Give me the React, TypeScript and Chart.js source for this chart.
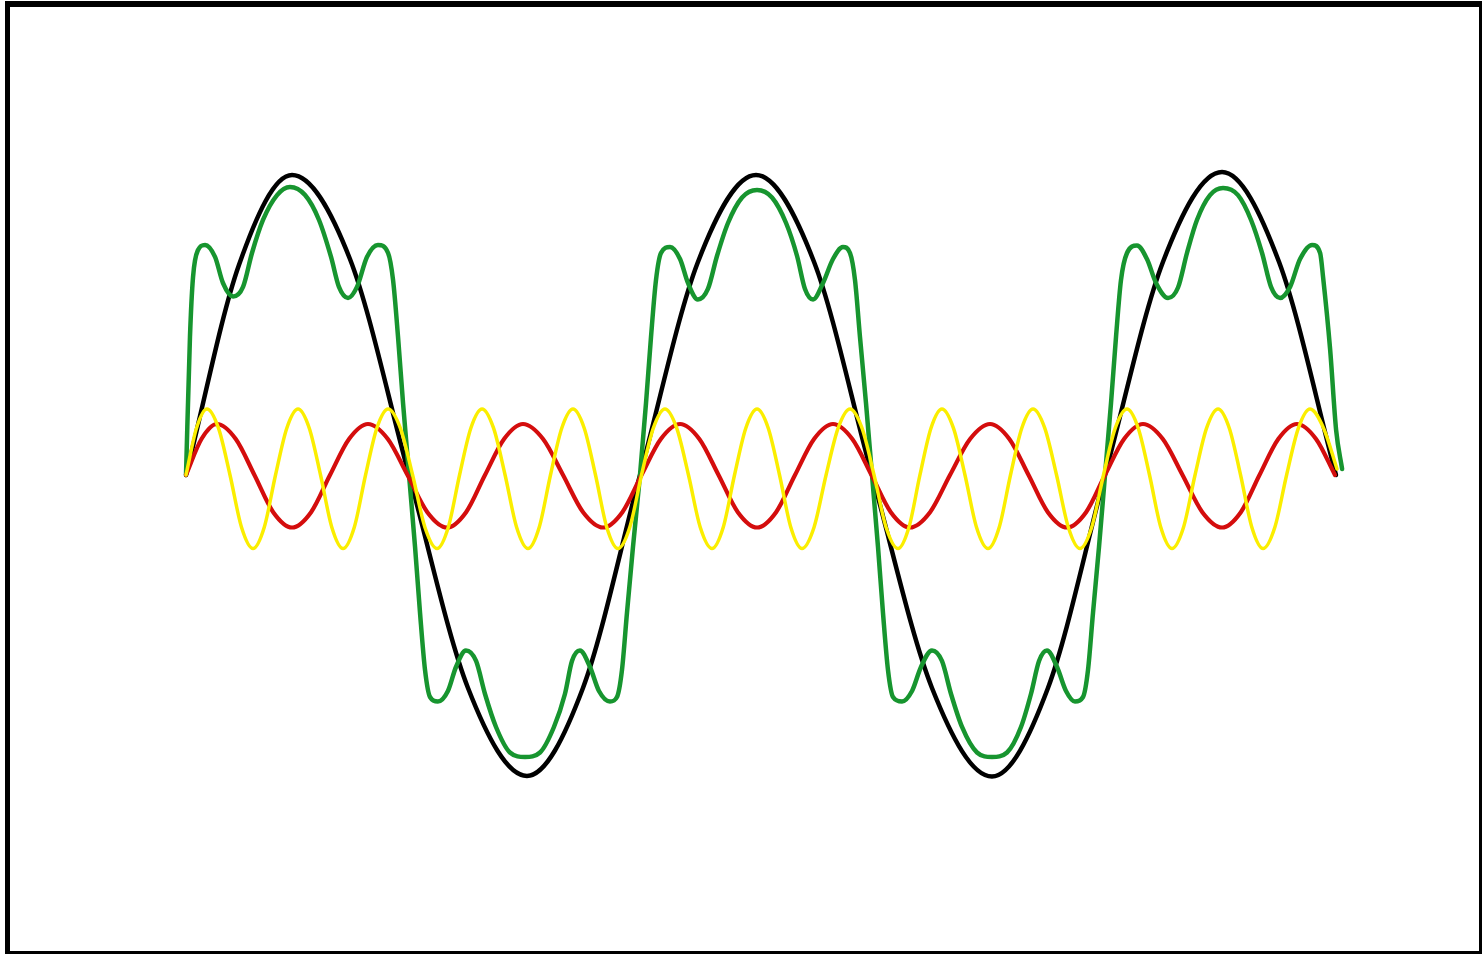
import { useEffect, useRef } from 'react';
import { Chart, registerables } from 'chart.js';

Chart.register(...registerables);

// x axis: phase of the fundamental in degrees (0 … ~900 = 2.5 periods)
// y axis: amplitude relative to the fundamental

const BLACK_X = [0, 41.4, 82.9, 128.2, 174.4, 220.5, 266.6, 310.4, 355.0, 400.3, 445.7, 491.1, 536.4, 583.3, 630.2, 674.0, 718.6, 763.9, 810.1, 854.7, 899.2];
const BLACK_Y = [0, 0.70, 1.0, 0.72, 0, -0.71, -1.003, -0.71, 0, 0.71, 1.0, 0.71, 0, -0.71, -1.005, -0.71, 0, 0.71, 1.01, 0.71, 0];

const RED_X = [
  0, 12.1, 24.2, 38.9, 53.5, 68.2, 82.9, 97.8, 112.6, 127.5, 142.3, 157.8, 173.2, 188.7, 204.1, 219.0,
  233.8, 248.7, 263.5, 279.2, 294.8, 310.5, 326.1, 341.2, 356.2, 371.3, 386.3, 401.4, 416.4, 431.5, 446.5, 461.4,
  476.2, 491.1, 505.9, 521.0, 536.0, 551.1, 566.1, 581.8, 597.4, 613.1, 628.7, 643.8, 658.8, 673.9, 688.9, 703.8,
  718.6, 733.5, 748.3, 763.8, 779.2, 794.7, 810.1, 824.8, 839.4, 854.1, 868.7, 883.6, 898.4,
];
const RED_Y = [
  0, 0.12, 0.17, 0.12, 0, -0.124, -0.175, -0.124, 0, 0.12, 0.17, 0.12, 0, -0.124, -0.175, -0.124,
  0, 0.12, 0.17, 0.12, 0, -0.124, -0.175, -0.124, 0, 0.12, 0.17, 0.12, 0, -0.124, -0.175, -0.124,
  0, 0.12, 0.17, 0.12, 0, -0.124, -0.175, -0.124, 0, 0.12, 0.17, 0.12, 0, -0.124, -0.175, -0.124,
  0, 0.12, 0.17, 0.12, 0, -0.124, -0.175, -0.124, 0, 0.12, 0.17, 0.12, 0,
];

const YELLOW_X = [
  0, 8.2, 16.4, 25.4, 34.4, 43.4, 52.4, 61.2, 70.0, 78.8, 87.6, 96.4, 105.2, 114.0, 122.8, 131.6,
  140.4, 149.2, 158.0, 167.6, 177.2, 186.8, 196.3, 205.1, 213.9, 222.7, 231.5, 240.5, 249.5, 258.5, 267.4, 276.2,
  285.0, 293.8, 302.6, 311.4, 320.2, 329.0, 337.8, 347.0, 356.2, 365.4, 374.5, 383.7, 392.9, 402.1, 411.3, 420.1,
  428.9, 437.7, 446.5, 455.3, 464.1, 472.9, 481.7, 491.1, 500.5, 509.9, 519.2, 528.6, 538.0, 547.4, 556.7, 565.3,
  573.9, 582.5, 591.1, 600.1, 609.1, 618.1, 627.1, 635.9, 644.7, 653.5, 662.3, 671.5, 680.7, 689.9, 699.0, 708.2,
  717.4, 726.6, 735.8, 744.6, 753.4, 762.2, 771.0, 780.0, 789.0, 798.0, 807.0, 815.8, 824.6, 833.4, 842.2, 851.4,
  860.6, 869.8, 878.9, 889.5, 900.0,
];
const YELLOW_Y = [
  0, 0.156, 0.22, 0.156, 0, -0.174, -0.245, -0.174, 0, 0.156, 0.22, 0.156, 0, -0.174, -0.245, -0.174,
  0, 0.156, 0.22, 0.156, 0, -0.174, -0.245, -0.174, 0, 0.156, 0.22, 0.156, 0, -0.174, -0.245, -0.174,
  0, 0.156, 0.22, 0.156, 0, -0.174, -0.245, -0.174, 0, 0.156, 0.22, 0.156, 0, -0.174, -0.245, -0.174,
  0, 0.156, 0.22, 0.156, 0, -0.174, -0.245, -0.174, 0, 0.156, 0.22, 0.156, 0, -0.174, -0.245, -0.174,
  0, 0.156, 0.22, 0.156, 0, -0.174, -0.245, -0.174, 0, 0.156, 0.22, 0.156, 0, -0.174, -0.245, -0.174,
  0, 0.156, 0.22, 0.156, 0, -0.174, -0.245, -0.174, 0, 0.156, 0.22, 0.156, 0, -0.174, -0.245, -0.174,
  0, 0.156, 0.22, 0.156, 0.02,
];

const GREEN_X = [
  0, 3.1, 5.5, 9.4, 14.9, 22.7, 28.9, 36.8, 44.6, 51.6, 60.2, 71.2, 81.3, 93.1, 104.0, 113.4, 119.6, 126.7, 133.7, 141.5, 150.1, 158.0, 161.9, 165.8, 169.7, 174.4,
  179.1, 183.0, 186.9, 190.8, 197.0, 204.8, 211.1, 218.9, 226.8, 233.8, 242.4, 253.3, 265.1, 276.8, 287.7, 296.3, 301.8, 308.0, 315.9, 322.9, 331.5, 337.0, 340.9, 344.8, 349.5, 355.0,
  359.7, 363.6, 367.5, 371.4, 378.5, 386.3, 392.5, 400.3, 408.1, 415.2, 423.8, 434.8, 446.5, 458.2, 469.2, 477.8, 484.0, 490.3, 498.1, 505.9, 513.7, 519.2, 523.1, 527.0, 531.7, 536.4,
  541.1, 545.0, 548.9, 552.8, 559.9, 567.7, 574.7, 583.3, 591.1, 598.2, 606.8, 618.5, 630.2, 642.0, 652.9, 660.7, 667.0, 673.2, 681.1, 688.1, 695.1, 701.4, 705.3, 709.2, 713.9, 718.6,
  723.3, 727.2, 731.1, 735.8, 743.6, 751.4, 758.5, 767.9, 775.7, 782.7, 790.5, 800.7, 810.9, 822.6, 832.8, 841.4, 848.4, 855.5, 863.3, 871.1, 880.5, 886.8, 889.1, 894.6, 899.3, 904.0,
];
const GREEN_Y = [
  0, 0.46, 0.66, 0.75, 0.767, 0.727, 0.64, 0.595, 0.627, 0.74, 0.85, 0.933, 0.96, 0.933, 0.85, 0.727, 0.627, 0.59, 0.627, 0.727, 0.767, 0.74, 0.65, 0.46, 0.24, 0,
  -0.24, -0.46, -0.65, -0.74, -0.755, -0.72, -0.64, -0.585, -0.62, -0.73, -0.84, -0.925, -0.94, -0.925, -0.84, -0.73, -0.62, -0.585, -0.64, -0.72, -0.755, -0.74, -0.65, -0.46, -0.24, 0,
  0.24, 0.46, 0.65, 0.74, 0.76, 0.72, 0.64, 0.585, 0.62, 0.73, 0.84, 0.925, 0.95, 0.925, 0.84, 0.73, 0.62, 0.585, 0.64, 0.72, 0.76, 0.74, 0.65, 0.46, 0.24, 0,
  -0.24, -0.46, -0.65, -0.74, -0.755, -0.72, -0.64, -0.585, -0.62, -0.73, -0.84, -0.925, -0.94, -0.925, -0.84, -0.73, -0.62, -0.585, -0.64, -0.72, -0.755, -0.74, -0.65, -0.46, -0.24, 0,
  0.24, 0.46, 0.65, 0.74, 0.765, 0.72, 0.64, 0.59, 0.625, 0.74, 0.85, 0.933, 0.957, 0.933, 0.85, 0.74, 0.627, 0.59, 0.627, 0.72, 0.767, 0.74, 0.66, 0.42, 0.15, 0.02,
];

const X_MIN = -145.44;
const X_MAX = 1014.16;
const Y_MIN = -1.5967;
const Y_MAX = 1.5833;

function pts(xs: number[], ys: number[]) {
  return xs.map((x, i) => ({ x, y: ys[i] }));
}

export default function App() {
  const ref = useRef<HTMLCanvasElement>(null);

  useEffect(() => {
    if (!ref.current) return;
    const chart = new Chart(ref.current, {
      type: 'line',
      data: {
        datasets: [
          { label: 'fifth', data: pts(YELLOW_X, YELLOW_Y), borderColor: '#fbee00', borderWidth: 3.5 },
          { label: 'third', data: pts(RED_X, RED_Y), borderColor: '#d40d0d', borderWidth: 4.2 },
          { label: 'sum', data: pts(GREEN_X, GREEN_Y), borderColor: '#17952f', borderWidth: 4.5 },
          { label: 'fundamental', data: pts(BLACK_X, BLACK_Y), borderColor: '#000000', borderWidth: 4.5 },
        ],
      },
      options: {
        responsive: false,
        animation: false,
        devicePixelRatio: 1,
        events: [],
        layout: { padding: 0 },
        plugins: { legend: { display: false }, tooltip: { enabled: false } },
        elements: {
          point: { radius: 0 },
          line: { cubicInterpolationMode: 'monotone', borderCapStyle: 'round', borderJoinStyle: 'round', fill: false },
        },
        scales: {
          x: { type: 'linear', display: false, min: X_MIN, max: X_MAX },
          y: { type: 'linear', display: false, min: Y_MIN, max: Y_MAX },
        },
      },
    });
    return () => chart.destroy();
  }, []);

  return (
    <div style={{ position: 'fixed', left: 0, top: 0, width: 1483, height: 954, background: '#ffffff', overflow: 'hidden' }}>
      <canvas
        ref={ref}
        width={1483}
        height={954}
        style={{ position: 'absolute', left: 0, top: 0, width: 1483, height: 954 }}
      />
      <div
        style={{
          position: 'absolute',
          left: 5,
          top: 1,
          width: 1477,
          height: 953,
          boxSizing: 'border-box',
          borderStyle: 'solid',
          borderColor: '#000',
          borderWidth: '6px 3px 3px 5px',
          pointerEvents: 'none',
        }}
      />
    </div>
  );
}
